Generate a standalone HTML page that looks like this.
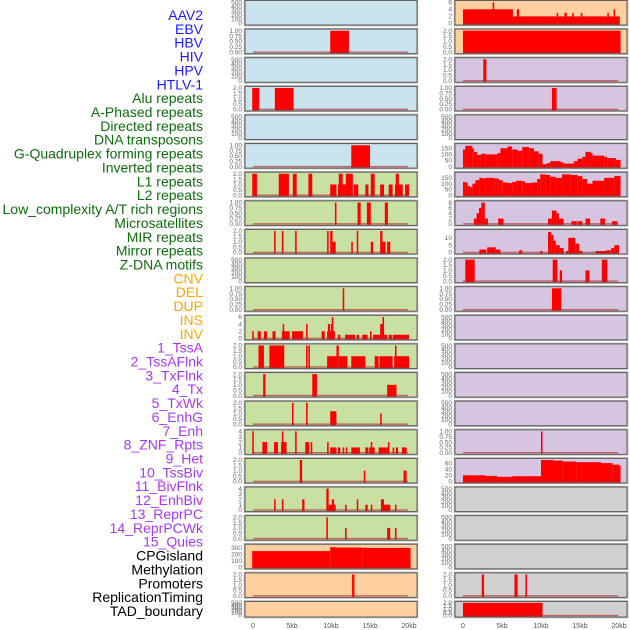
<!DOCTYPE html>
<html><head><meta charset="utf-8"><style>
html,body{margin:0;padding:0;background:#fff;width:630px;height:630px;overflow:hidden}
svg{display:block}
</style></head><body>
<svg id="chart" width="630" height="630" xmlns="http://www.w3.org/2000/svg"></svg>
<script>
// ---- data (kb start, kb end, value) ----
const labels = ["AAV2","EBV","HBV","HIV","HPV","HTLV-1","Alu repeats","A-Phased repeats","Directed repeats","DNA transposons","G-Quadruplex forming repeats","Inverted repeats","L1 repeats","L2 repeats","Low_complexity A/T rich regions","Microsatellites","MIR repeats","Mirror repeats","Z-DNA motifs","CNV","DEL","DUP","INS","INV","1_TssA","2_TssAFlnk","3_TxFlnk","4_Tx","5_TxWk","6_EnhG","7_Enh","8_ZNF_Rpts","9_Het","10_TssBiv","11_BivFlnk","12_EnhBiv","13_ReprPC","14_ReprPCWk","15_Quies","CPGisland","Methylation","Promoters","ReplicationTiming","TAD_boundary"];
const labelGroups = [6,13,5,15,5];
const xTicks = [0,5,10,15,20];
const xTickLabels = ["0","5kb","10kb","15kb","20kb"];

const R0 = [[0,6.4,4],[3.8,4.0,6],[6.4,20.1,2],[6.9,7.2,4],[12.0,12.2,3],[13.0,13.3,3],[14.0,14.2,3],[15.1,15.3,3],[18.5,18.7,3],[19.3,19.5,4]];
const L1 = [[9.9,12.3,1]];
const R1 = [[0,20.2,2]];
const R2 = [[2.6,3.0,2]];
const L3 = [[-0.1,0.8,2],[2.8,5.2,2]];
const R3 = [[11.4,12.0,1]];
const L5 = [[12.6,15.0,1]];
const R5 = [[0,0.3,140],[0.3,1.2,170],[1.2,1.4,150],[1.4,1.8,120],[1.8,2.3,95],[2.3,2.9,105],[2.9,4.4,100],[4.4,4.8,110],[4.8,5.7,150],[5.7,6.3,165],[6.3,7.0,140],[7.0,7.6,130],[7.6,8.5,160],[8.5,9.1,150],[9.1,9.7,125],[9.7,10.2,105],[10.2,10.8,20],[10.8,11.2,30],[11.2,12.5,45],[12.5,12.9,35],[12.9,14.2,25],[14.2,14.7,45],[14.7,15.3,65],[15.3,15.7,80],[15.7,16.4,120],[16.4,16.6,110],[16.6,18.1,90],[18.1,18.5,80],[18.5,19.6,70],[19.6,20.2,55]];
const L6 = [[-0.1,0.5,2],[3.3,4.6,2],[5.1,5.6,2],[7.1,7.6,2],[11.0,11.5,2],[11.9,12.8,2],[15.1,15.6,2],[18.3,18.7,2],[9.9,10.7,1],[10.9,11.9,1],[12.9,13.5,1],[14.4,14.8,1],[16.3,16.8,1],[17.4,17.9,1],[18.2,19.2,1],[19.5,20.0,1]];
const R6 = [[0,0.3,115],[0.3,0.6,110],[0.6,0.9,80],[0.9,1.2,70],[1.2,1.6,100],[1.6,2.1,130],[2.1,2.5,150],[2.5,2.9,145],[2.9,4.0,150],[4.0,4.6,145],[4.6,5.1,130],[5.1,5.7,110],[5.7,6.3,105],[6.3,6.8,115],[6.8,7.6,125],[7.6,8.0,120],[8.0,8.9,105],[8.9,9.5,110],[9.5,9.9,140],[9.9,10.6,180],[10.6,11.2,175],[11.2,11.9,160],[11.9,12.7,150],[12.7,13.8,180],[13.8,14.7,175],[14.7,15.3,165],[15.3,15.9,140],[15.9,16.6,100],[16.6,18.1,125],[18.1,19.4,150],[19.4,20.2,165]];
const L7 = [[10.5,10.7,1],[13.4,13.8,1],[14.6,15.1,1],[16.9,17.3,1]];
const R7 = [[1.4,1.75,2],[1.75,2.05,4],[2.05,2.35,6],[2.35,2.8,8],[2.8,3.2,2],[4.5,5.2,2],[10.9,11.4,2],[11.4,12.0,5],[12.0,12.3,4],[12.3,12.9,2],[13.9,14.6,1],[14.7,15.3,1],[15.7,16.3,2],[17.6,18.2,2],[19.1,19.8,1]];
const L8 = [[2.7,2.9,2],[3.7,3.9,2],[5.4,5.6,2],[9.5,9.7,2],[9.9,10.2,2],[13.3,13.5,2],[16.3,16.6,2],[10.2,10.6,1],[12.6,12.8,1],[15.1,15.4,1],[16.6,17.0,1],[17.2,17.6,1]];
const R8 = [[2.1,3.0,2],[3.1,4.2,3.5],[4.2,4.8,2],[7.2,7.6,1.5],[9.9,10.2,1],[10.9,11.3,14],[11.3,11.6,12],[11.6,11.9,8],[11.9,12.4,5],[12.4,12.9,3],[13.2,13.5,1],[13.5,14.4,10],[14.4,14.9,6],[14.9,15.3,1],[17.0,18.4,1],[18.4,19.0,1.5],[19.0,19.4,3],[19.4,20.0,5]];
const R9 = [[0.3,1.5,2],[11.5,12.1,2],[17.8,18.5,2],[12.4,12.7,1],[15.7,16.2,1]];
const L10 = [[11.5,11.7,1]];
const R10 = [[11.4,12.6,1]];
const L11 = [[-0.1,0.1,2],[0.6,1.0,2],[1.4,1.8,2],[2.5,2.9,2],[3.7,4.7,2],[3.8,4.0,4],[5.0,6.4,2],[6.8,7.0,4],[8.8,9.2,2],[9.5,10.5,2],[9.6,9.9,4],[10.0,10.1,4],[10.1,10.3,6],[10.9,11.2,1],[11.8,13.1,1],[13.3,13.6,1],[14.0,14.7,1],[15.0,15.2,2],[15.4,16.3,1],[16.3,16.8,4],[16.6,16.8,6],[16.8,17.2,1],[17.4,17.8,1],[17.9,20.0,1]];
const L12 = [[0.7,1.4,2],[2.1,4.0,2],[6.8,7.0,2],[7.1,7.3,2],[10.7,11.0,2],[18.2,18.4,2],[9.5,10.7,1],[11.0,12.1,1],[12.6,14.4,1],[15.6,16.1,1],[16.2,17.9,1],[18.1,20.0,1]];
const L13 = [[1.3,1.6,2],[7.6,8.2,2],[17.2,18.4,1]];
const L14 = [[5.0,5.2,2],[6.8,7.0,2],[9.9,10.7,1.2],[16.3,16.5,1]];
const L15 = [[-0.1,0.1,4],[1.2,1.8,2],[2.7,3.2,2],[3.6,4.3,2],[3.7,3.9,4],[5.4,5.6,4],[6.7,7.2,2],[7.4,7.6,2],[9.5,9.7,2],[9.9,10.7,1],[10.9,11.2,1],[11.5,11.7,1],[11.9,12.1,1],[12.6,13.7,1],[14.4,14.8,1],[14.9,15.6,1],[15.1,15.3,2],[16.1,17.1,1],[17.1,17.5,1],[17.3,17.5,2],[17.9,18.1,1],[18.3,18.6,1],[19.1,19.7,1]];
const R15 = [[10.0,10.2,1]];
const L16 = [[6.0,6.3,2],[14.2,14.4,1],[19.3,19.7,1]];
const R16 = [[0,2.9,20],[2.9,4.4,18],[4.4,6.3,15],[6.3,10.0,17],[10.0,11.6,70],[11.6,12.8,68],[12.8,14.5,65],[14.5,17.7,63],[17.7,19.2,60],[19.2,20.0,55],[20.0,20.2,52]];
const L17 = [[9.4,9.7,4],[2.7,2.9,2],[3.7,3.9,2],[6.3,6.6,2],[10.1,10.4,2],[9.7,10.6,1],[11.8,12.0,1],[13.3,13.5,2],[14.4,14.7,1],[15.1,15.3,1],[16.4,16.8,2],[16.8,17.6,1],[18.2,18.4,1]];
const L18 = [[9.4,9.6,2],[11.8,12.0,1],[17.2,17.6,1],[18.2,18.4,1]];
const L19 = [[-0.1,9.9,250],[9.9,10.7,310],[10.7,14.0,305],[14.0,20.2,300]];
const L20 = [[12.7,13.0,2]];
const R20 = [[2.4,2.7,2],[6.6,7.0,2],[8.0,8.2,2]];
const R21 = [[0,10.2,2]];

// tick sets
const T500 = [0,100,200,300,400,500];
const T1 = [0,0.25,0.5,0.75,1];
const T2 = [0,0.5,1,1.5,2];

const BLUE="#c9e4ec", GREEN="#c9e0a3", PEACH="#fed0a0", LAV="#d5c5e1", GRAY="#d0d0d0";
function P(bg,max,ticks,data,fmt){return {bg:bg,max:max,ticks:ticks,data:data,fmt:fmt};}
const E=(bg)=>P(bg,520,T500,null,0);
const rows = [
 [E(BLUE), P(PEACH,6.2,[0,2,4,6],R0,0)],
 [P(BLUE,1.03,T1,L1,2), P(PEACH,2.05,T2,R1,1)],
 [E(BLUE), P(LAV,2.05,T2,R2,1)],
 [P(BLUE,2.05,T2,L3,1), P(LAV,1.03,T1,R3,2)],
 [E(BLUE), E(LAV)],
 [P(BLUE,1.03,T1,L5,2), P(LAV,180,[0,50,100,150],R5,0)],
 [P(GREEN,2.05,T2,L6,1), P(LAV,190,[0,50,100,150],R6,0)],
 [P(GREEN,1.03,T1,L7,2), P(LAV,8.3,[0,2,4,6,8],R7,0)],
 [P(GREEN,2.05,T2,L8,1), P(LAV,15,[0,5,10],R8,0)],
 [E(GREEN), P(LAV,2.05,T2,R9,1)],
 [P(GREEN,1.03,T1,L10,2), P(LAV,1.03,T1,R10,2)],
 [P(GREEN,6.2,[0,2,4,6],L11,0), E(LAV)],
 [P(GREEN,2.05,T2,L12,1), E(LAV)],
 [P(GREEN,2.05,T2,L13,1), E(LAV)],
 [P(GREEN,2.05,T2,L14,1), E(LAV)],
 [P(GREEN,4.1,[0,1,2,3,4],L15,0), P(LAV,1.03,T1,R15,2)],
 [P(GREEN,2.05,T2,L16,1), P(LAV,72,[0,20,40,60],R16,0)],
 [P(GREEN,4.1,[0,1,2,3,4],L17,0), E(GRAY)],
 [P(GREEN,2.05,T2,L18,1), E(GRAY)],
 [P(PEACH,340,[0,100,200,300],L19,0), E(GRAY)],
 [P(PEACH,2.05,T2,L20,1), P(GRAY,2.05,T2,R20,1)],
 [E(PEACH), P(GRAY,2.05,T2,R21,1)]
];

const NS="http://www.w3.org/2000/svg";
const svg=document.getElementById("chart");
function mk(tag,attrs,parent){const e=document.createElementNS(NS,tag);for(const k in attrs)e.setAttribute(k,attrs[k]);(parent||svg).appendChild(e);return e;}

// labels
const gcolors=["#1a1aff","#0b6e0b","#ffa500","#a838f0","#000000"];
let gi=0,cnt=0;
labels.forEach((t,k)=>{
  while(cnt>=labelGroups[gi]){cnt-=labelGroups[gi];gi++;}
  const el=mk("text",{x:203,y:15+k*13.86+5,"text-anchor":"end","font-family":"Liberation Sans, sans-serif","font-size":"14",fill:gcolors[gi]});
  el.textContent=t;
  
  
  cnt++;
});

const colX=[245,455];
const PW=172;
const xScale=(col,kb)=>colX[col]+8+kb*7.8;

rows.forEach((row,i)=>{
  const top=i*28.62+0.5;
  const h=(i===21)?15.5:24.5;
  row.forEach((p,col)=>{
    const g=mk("g",{});
    
    
    const x0=colX[col];
    mk("rect",{x:x0-0.5,y:top-0.5,width:PW+1,height:h+1,fill:"none",stroke:"#b0b0b0","stroke-width":1.5},g);
    mk("rect",{x:x0,y:top,width:PW,height:h,fill:p.bg,stroke:"#606060","stroke-width":1},g);
    const bottom=top+h;
    const yS=v=>bottom-1.5-(v/p.max)*(h-2.5);
    // ticks
    p.ticks.forEach(tv=>{
      const tl=mk("text",{x:x0-3,y:yS(tv)+2.2,"text-anchor":"end","font-family":"Liberation Sans, sans-serif","font-size":"6.5",fill:"#666"},g);
      tl.textContent=p.fmt?tv.toFixed(p.fmt):String(tv);
      
      
    });
    if(p.data){
      p.data.forEach(d=>{
        const xa=xScale(col,d[0]), xb=xScale(col,d[1]);
        const b=mk("rect",{x:xa,y:yS(d[2]),width:Math.max(1,xb-xa),height:yS(0)-yS(d[2])+1,fill:"#ff0000"},g);
        
        
      });
      const bl=mk("line",{x1:xScale(col,0),x2:xScale(col,19.9),y1:yS(0),y2:yS(0),stroke:"#b22222","stroke-opacity":0.6,"stroke-width":1.5},g);
      
      
    }
  });
});

// x axes
[0,1].forEach(col=>{
  xTicks.forEach((kb,j)=>{
    const t=mk("text",{x:xScale(col,kb),y:628,"text-anchor":"middle","font-family":"Liberation Sans, sans-serif","font-size":"7",fill:"#555"});
    t.textContent=xTickLabels[j];
    
    
  });
});
</script>
</body></html>
